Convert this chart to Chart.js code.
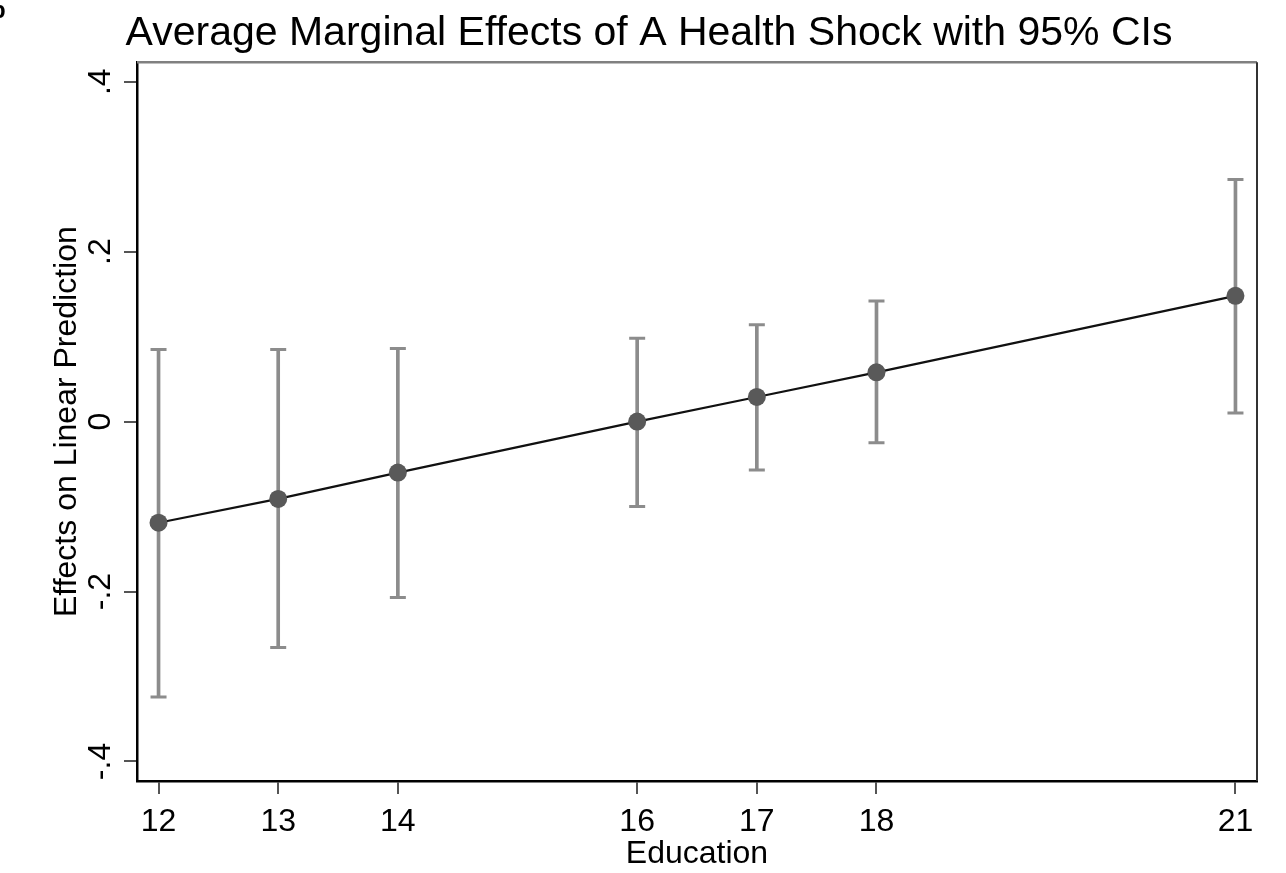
<!DOCTYPE html>
<html>
<head>
<meta charset="utf-8">
<title>Average Marginal Effects</title>
<script src="https://cdn.jsdelivr.net/npm/chart.js@4.4.1/dist/chart.umd.min.js"></script>
<style>
  html, body { margin:0; padding:0; background:#fff; }
  #wrap { width:1286px; height:873px; position:relative; }
</style>
</head>
<body>
<div id="wrap"><canvas id="chart"></canvas></div>
<script>
// data
const education = [12, 13, 14, 16, 17, 18, 21];
const effect    = [-0.119, -0.091, -0.060, 0.000, 0.029, 0.058, 0.148];
const ciLow     = [-0.324, -0.266, -0.207, -0.100, -0.057, -0.025, 0.010];
const ciHigh    = [0.085, 0.085, 0.086, 0.098, 0.114, 0.142, 0.285];
const xTicks    = [12, 13, 14, 16, 17, 18, 21];
const yTicks    = [-0.4, -0.2, 0, 0.2, 0.4];

const FONT = "'Liberation Sans', Arial, sans-serif";
const ciColor = '#8c8c8c';
const fmtY = v => v === 0 ? '0' : (v < 0 ? '-' : '') + String(Math.abs(v)).replace(/^0/, '');

// top + right frame and the cut-off panel letter
const frame = {
  id: 'frame',
  afterDraw(chart) {
    const { ctx, chartArea: { left, right, top, bottom } } = chart;
    ctx.save();
    ctx.strokeStyle = '#808080'; ctx.lineWidth = 2.5;
    ctx.beginPath(); ctx.moveTo(left, top); ctx.lineTo(right, top); ctx.stroke();
    ctx.strokeStyle = '#333'; ctx.lineWidth = 2;
    ctx.beginPath(); ctx.moveTo(right, top); ctx.lineTo(right, bottom); ctx.stroke();
    ctx.fillStyle = '#000'; ctx.font = `bold 24px ${FONT}`; ctx.textBaseline = 'alphabetic';
    ctx.fillText('b', -9, 18);
    ctx.restore();
  }
};

new Chart(document.getElementById('chart'), {
  type: 'line',
  data: {
    datasets: [
      {
        label: 'Effect',
        data: education.map((x, i) => ({ x, y: effect[i] })),
        borderColor: '#111', borderWidth: 2.2,
        pointRadius: 9, pointBackgroundColor: '#595959', pointBorderWidth: 0,
        tension: 0, order: 1
      },
      {
        label: 'CI caps',
        type: 'scatter',
        data: education.flatMap((x, i) => [{ x, y: ciLow[i] }, { x, y: ciHigh[i] }]),
        pointStyle: 'line', pointRadius: 8, borderColor: ciColor, pointBorderWidth: 3,
        showLine: false, order: 2
      },
      {
        label: 'CI',
        type: 'bar',
        data: education.map((x, i) => ({ x, y: [ciLow[i], ciHigh[i]] })),
        backgroundColor: ciColor, barThickness: 3, order: 3
      }
    ]
  },
  options: {
    responsive: true,
    maintainAspectRatio: false,
    animation: false,
    devicePixelRatio: 1,
    layout: { padding: { left: 41, right: 29, top: 0, bottom: 0 } },
    plugins: {
      legend: { display: false },
      tooltip: { enabled: false },
      title: {
        display: true,
        text: 'Average Marginal Effects of A Health Shock with 95% CIs',
        color: '#000',
        font: { family: FONT, size: 41, weight: 'normal' },
        padding: { top: 9, bottom: 4 }
      }
    },
    scales: {
      x: {
        type: 'linear', min: 11.82, max: 21.18, offset: false,
        afterBuildTicks: s => { s.ticks = xTicks.map(v => ({ value: v })); },
        afterFit: s => { s.height = 92; },
        ticks: { color: '#000', font: { family: FONT, size: 32 }, padding: 9, maxRotation: 0, autoSkip: false,
                 callback: v => String(v) },
        grid: { offset: false, drawOnChartArea: false, drawTicks: true, tickLength: 13, color: '#555', lineWidth: 2 },
        border: { display: true, color: '#000', width: 2.5 },
        title: { display: true, text: 'Education', color: '#000', font: { family: FONT, size: 32 },
                 padding: { top: 0, bottom: 0 } }
      },
      y: {
        type: 'linear', min: -0.423, max: 0.423,
        afterBuildTicks: s => { s.ticks = yTicks.map(v => ({ value: v })); },
        afterFit: s => { s.width = 96; },
        ticks: { color: '#000', font: { family: FONT, size: 32 }, padding: 4, minRotation: 90, maxRotation: 90,
                 crossAlign: 'center', autoSkip: false, callback: v => fmtY(v) },
        grid: { offset: false, drawOnChartArea: false, drawTicks: true, tickLength: 13, color: '#555', lineWidth: 2 },
        border: { display: true, color: '#000', width: 2.5 },
        title: { display: true, text: 'Effects on Linear Prediction', color: '#000', font: { family: FONT, size: 32 },
                 padding: { top: 7, bottom: 0 } }
      }
    }
  },
  plugins: [frame]
});
</script>
</body>
</html>
